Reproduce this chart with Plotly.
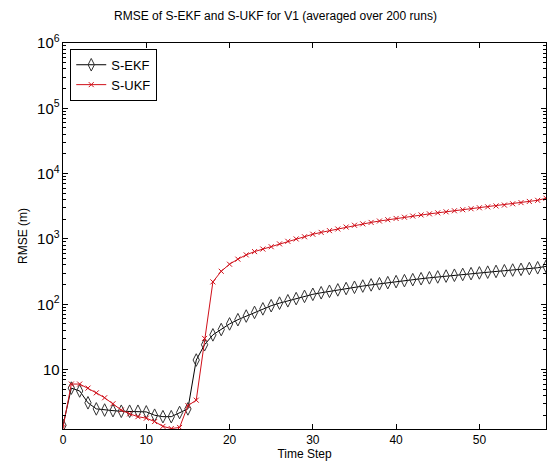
import plotly.graph_objects as go

time_step = list(range(0, 59))

ekf = [1.4, 5.2, 4.7, 3.1, 2.5, 2.4, 2.35, 2.3, 2.3, 2.3, 2.25, 2.0, 1.9, 1.9, 2.2, 2.5,
       14, 24, 34, 41, 50, 58, 66, 75, 85, 95, 104, 113, 122, 132, 142, 150, 158, 166,
       174, 182, 190, 198, 206, 214, 222, 230, 238, 246, 254, 262, 270, 278, 286, 294,
       302, 310, 318, 326, 334, 342, 352, 362, 380]

ukf = [1.3, 6.0, 6.0, 5.2, 4.4, 3.7, 3.0, 2.4, 2.1, 1.9, 1.8, 1.6, 1.35, 1.25, 1.3, 2.8,
       3.4, 30, 220, 320, 410, 490, 570, 640, 700, 760, 840, 920, 1000, 1080, 1180, 1260,
       1340, 1420, 1520, 1620, 1700, 1790, 1880, 1970, 2060, 2150, 2240, 2330, 2420, 2510,
       2600, 2700, 2800, 2900, 3000, 3100, 3200, 3300, 3450, 3600, 3750, 3900, 4200]

title_text = "RMSE of S-EKF and S-UKF for V1 (averaged over 200 runs)"
x_label = "Time Step"
y_label = "RMSE (m)"

font_family = "Liberation Sans, Arial, sans-serif"

fig = go.Figure()
fig.add_trace(go.Scatter(
    x=time_step, y=ekf, name="S-EKF", mode="lines+markers",
    line=dict(color="black", width=1),
    marker=dict(symbol="diamond-tall-open", size=9, color="#333333", line=dict(width=1, color="#333333")),
))
fig.add_trace(go.Scatter(
    x=time_step, y=ukf, name="S-UKF", mode="lines+markers",
    line=dict(color="#d0101a", width=1),
    marker=dict(symbol="x-thin-open", size=5, color="#d0101a", line=dict(width=1, color="#d0101a")),
))

fig.update_layout(
    width=551, height=472,
    margin=dict(l=63, r=5, t=43, b=43),
    paper_bgcolor="white", plot_bgcolor="white",
    font=dict(family=font_family, size=12, color="black"),
    title=dict(text=title_text, x=0.5, xanchor="center", y=0.975, yanchor="top",
               font=dict(size=12, family=font_family, color="black")),
    showlegend=True,
    legend=dict(x=0.015, y=0.985, xanchor="left", yanchor="top",
                bordercolor="black", borderwidth=1, bgcolor="white",
                font=dict(size=13, family=font_family), tracegroupgap=2),
)

fig.update_xaxes(
    range=[0, 58], tickmode="array", tickvals=[0, 10, 20, 30, 40, 50],
    ticks="inside", ticklen=5, tickcolor="black", tickwidth=1,
    showline=True, linecolor="black", linewidth=1, mirror="ticks",
    showgrid=False, zeroline=False,
    title=dict(text=x_label, standoff=2, font=dict(size=12)),
    tickfont=dict(size=12),
)

fig.update_yaxes(
    type="log", range=[0.09, 6], dtick=1, exponentformat="power", showexponent="all",
    ticks="inside", ticklen=5, tickcolor="black", tickwidth=1,
    minor=dict(ticks="inside", ticklen=3, dtick="D1", tickcolor="black", showgrid=False),
    showline=True, linecolor="black", linewidth=1, mirror="ticks",
    showgrid=False, zeroline=False,
    title=dict(text=y_label, standoff=6, font=dict(size=12)),
    tickfont=dict(size=12),
)

fig.write_html("out.html")
